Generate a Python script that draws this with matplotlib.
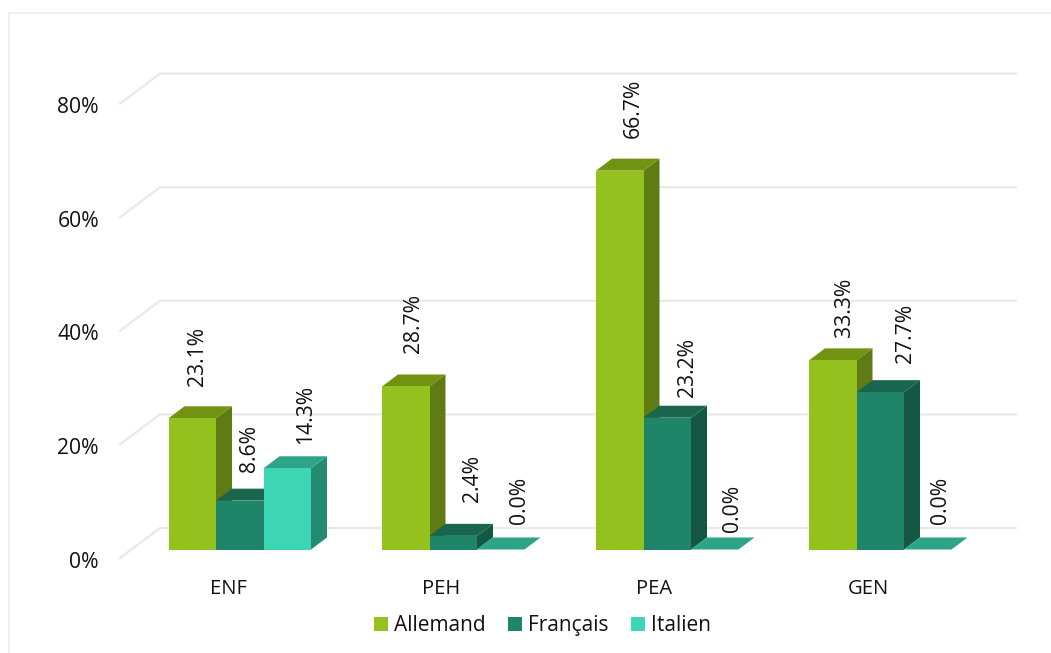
import matplotlib
matplotlib.use("Agg")
import matplotlib.pyplot as plt
from matplotlib.patches import Polygon, Patch

plt.rcParams['font.family'] = ['Open Sans', 'DejaVu Sans']

categories = ["ENF", "PEH", "PEA", "GEN"]
series_names = ["Allemand", "Français", "Italien"]
allemand = [23.1, 28.7, 66.7, 33.3]
francais = [8.6, 2.4, 23.2, 27.7]
italien = [14.3, 0.0, 0.0, 0.0]
y_ticks = [0, 20, 40, 60, 80]

# front, top and side shades of each series
colors = [("#95C11F", "#729211", "#5F7C14"),
          ("#1F8568", "#1A654E", "#155745"),
          ("#3DD6B5", "#2DA488", "#258A72")]

# layout, x in pixels and y in percent
px_per_pct = 5.68
base_px = 549.5
bar_w = 47.5
depth_x = 16
depth_y = 12 / px_per_pct
group_left = [168.5, 382, 596, 809]
cat_x = [228, 441, 654, 868]

# data label offsets from the front top centre of each bar, pixels
label_dx = [[5, 8, 14, 12], [10, 19, 20, 25.5], [18, 19, 18, 13]]
label_dy = [[32, 33, 33, 23], [29, 34, 21, 29], [24, 26, 18, 26]]

fig = plt.figure(figsize=(10.51, 6.53), dpi=100)
ax = fig.add_axes([0, 0, 1, 1])
ax.set_xlim(0, 1051)
ax.set_ylim((base_px - 653) / px_per_pct, base_px / px_per_pct)
ax.axis("off")

# chart frame, top and left edges
frame_top = (base_px - 13) / px_per_pct
frame_bottom = (base_px - 653) / px_per_pct
ax.plot([8.5, 8.5, 1051], [frame_bottom, frame_top, frame_top], color="#ececec", lw=1.2, zorder=1)

# back wall gridlines with the slanted floor part
grid_back = 21.5 / px_per_pct
grid_front = -8.5 / px_per_pct
for t in y_ticks:
    ax.plot([120, 160, 1016], [t + grid_front, t + grid_back, t + grid_back],
            color="#e9e9e9", lw=1.6, solid_joinstyle="miter", zorder=1)
    ax.text(99, t - 12.5 / px_per_pct, f"{t}%", ha="right", va="center", fontsize=15.2, color="#111111")

z = 2
for j, vals in enumerate([allemand, francais, italien]):
    front, top, side = colors[j]
    for i, v in enumerate(vals):
        x0 = group_left[i] + j * bar_w
        x1 = x0 + bar_w
        ax.add_patch(Polygon([(x1, 0), (x1 + depth_x, depth_y), (x1 + depth_x, v + depth_y), (x1, v)],
                             fc=side, ec="none", zorder=z))
        ax.add_patch(Polygon([(x0, v), (x0 + depth_x, v + depth_y), (x1 + depth_x, v + depth_y), (x1, v)],
                             fc=top, ec="none", zorder=z + 0.1))
        if v > 0:
            ax.add_patch(Polygon([(x0, 0), (x1, 0), (x1, v), (x0, v)],
                                 fc=front, ec="none", zorder=z + 0.2))
        ax.annotate(f"{v:.1f}%", (x0 + bar_w / 2, v),
                    xytext=(label_dx[j][i], label_dy[j][i]), textcoords="offset pixels",
                    rotation=90, ha="center", va="bottom", fontsize=15.2, color="#111111", zorder=20)
    z += 1

for x, c in zip(cat_x, categories):
    ax.text(x, (base_px - 589) / px_per_pct, c, ha="center", va="center", fontsize=14.5, color="#111111")

handles = [Patch(fc=colors[k][0], ec="none", label=series_names[k]) for k in range(3)]
ax.legend(handles=handles, ncol=3, frameon=False, fontsize=15, loc="center",
          bbox_to_anchor=(542.5 / 1051, 1 - 625.5 / 653), handlelength=0.68, handleheight=0.68,
          handletextpad=0.3, columnspacing=1.05, borderpad=0, labelcolor="#111111")

plt.savefig("out.png", dpi=100)
